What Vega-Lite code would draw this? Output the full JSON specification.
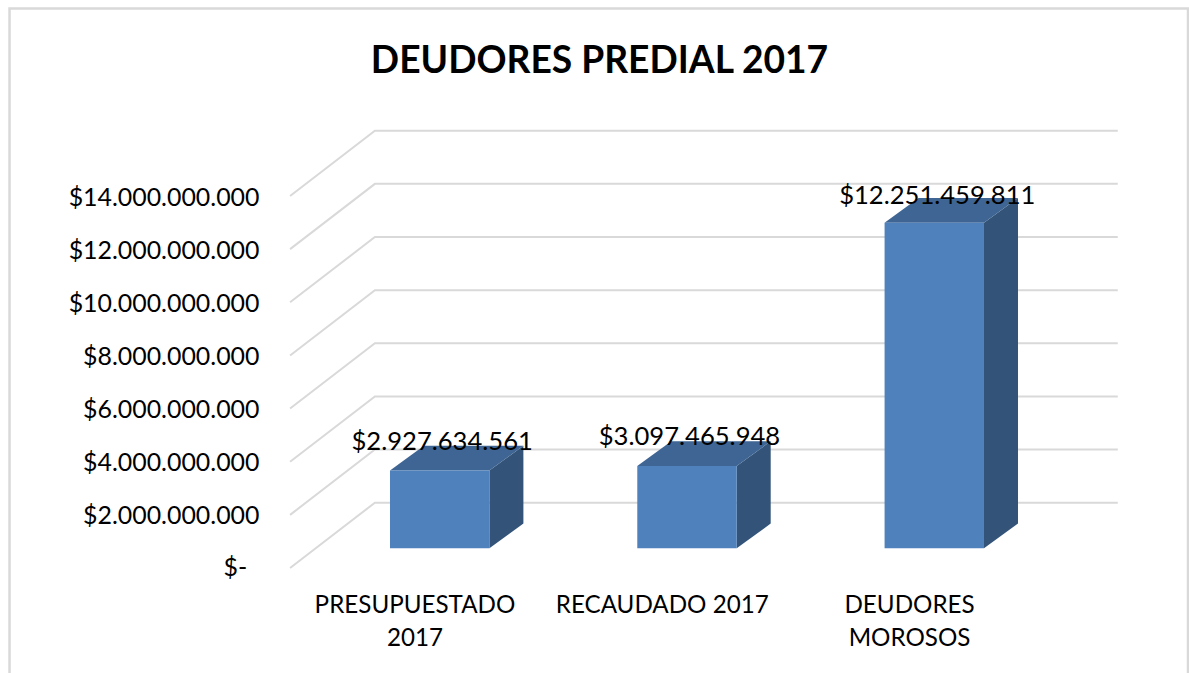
{
"$schema":"https://vega.github.io/schema/vega-lite/v6.json",
"width":1189,"height":673,"padding":0,"autosize":{"type":"none"},
"background":"#ffffff",
"title":{"text":"DEUDORES PREDIAL 2017","anchor":"middle","frame":"group","offset":-81,"dx":5,"font":"Lato","fontWeight":"bold","fontSize":37.2,"color":"#000000"},
"config":{"view":{"stroke":null},"font":"Lato"},
"encoding":{
"x":{"field":"x","type":"quantitative","scale":{"domain":[-1.778,3.03],"nice":false,"zero":false},"axis":null},
"y":{"field":"y","type":"quantitative","scale":{"domain":[-3952000000,21378000000],"nice":false,"zero":false},
"axis":{"values":[2000000000,4000000000,6000000000,8000000000,10000000000,12000000000,14000000000],"offset":-259,"domain":false,"ticks":false,"grid":false,"title":null,"labelPadding":0,"labelOffset":2,"labelLimit":400,"labelFont":"Lato","labelFontSize":24.9,"labelColor":"#000000","labelBaseline":"middle",
"labelExpr":"replace(format(datum.value,'$,.0f'),/,/g,'.')"}}
},
"layer":[
{"data":{"values":[{"x":-1.7395,"x2":3.026,"y":21058000000,"y2":-4100000000}]},
"mark":{"type":"rect","fill":"transparent","stroke":"#d9d9d9","strokeWidth":2.5},
"encoding":{"x2":{"field":"x2"},"y2":{"field":"y2"}}},
{"data":{"values":[
{"g":0,"x":-0.605,"y":0},{"g":0,"x":-0.262,"y":2458000000},{"g":0,"x":2.742,"y":2458000000},
{"g":2,"x":-0.605,"y":2000000000},{"g":2,"x":-0.262,"y":4458000000},{"g":2,"x":2.742,"y":4458000000},
{"g":4,"x":-0.605,"y":4000000000},{"g":4,"x":-0.262,"y":6458000000},{"g":4,"x":2.742,"y":6458000000},
{"g":6,"x":-0.605,"y":6000000000},{"g":6,"x":-0.262,"y":8458000000},{"g":6,"x":2.742,"y":8458000000},
{"g":8,"x":-0.605,"y":8000000000},{"g":8,"x":-0.262,"y":10458000000},{"g":8,"x":2.742,"y":10458000000},
{"g":10,"x":-0.605,"y":10000000000},{"g":10,"x":-0.262,"y":12458000000},{"g":10,"x":2.742,"y":12458000000},
{"g":12,"x":-0.605,"y":12000000000},{"g":12,"x":-0.262,"y":14458000000},{"g":12,"x":2.742,"y":14458000000},
{"g":14,"x":-0.605,"y":14000000000},{"g":14,"x":-0.262,"y":16458000000},{"g":14,"x":2.742,"y":16458000000}
]},
"mark":{"type":"line","color":"#d9d9d9","strokeWidth":2,"interpolate":"linear"},
"encoding":{"detail":{"field":"g"}}},
{"data":{"values":[
{"bar":"PRESUPUESTADO 2017","x":0.201,"y":741000000,"y2":3668634561},{"bar":"PRESUPUESTADO 2017","x":0.3385,"y":1671000000,"y2":4598634561},
{"bar":"RECAUDADO 2017","x":1.201,"y":741000000,"y2":3838465948},{"bar":"RECAUDADO 2017","x":1.3385,"y":1671000000,"y2":4768465948},
{"bar":"DEUDORES MOROSOS","x":2.201,"y":741000000,"y2":12992459811},{"bar":"DEUDORES MOROSOS","x":2.3385,"y":1671000000,"y2":13922459811}
]},
"mark":{"type":"area","orient":"vertical","color":"#335478"},
"encoding":{"detail":{"field":"bar"},"y2":{"field":"y2"}}},
{"data":{"values":[
{"bar":"PRESUPUESTADO 2017","x":-0.201,"x2":0.201,"y":3668634561},{"bar":"PRESUPUESTADO 2017","x":-0.0635,"x2":0.3385,"y":4598634561},
{"bar":"RECAUDADO 2017","x":0.799,"x2":1.201,"y":3838465948},{"bar":"RECAUDADO 2017","x":0.9365,"x2":1.3385,"y":4768465948},
{"bar":"DEUDORES MOROSOS","x":1.799,"x2":2.201,"y":12992459811},{"bar":"DEUDORES MOROSOS","x":1.9365,"x2":2.3385,"y":13922459811}
]},
"mark":{"type":"area","orient":"horizontal","color":"#3e6593"},
"encoding":{"detail":{"field":"bar"},"x2":{"field":"x2"}}},
{"data":{"values":[
{"bar":"PRESUPUESTADO 2017","x":-0.201,"x2":0.201,"y":741000000,"y2":3668634561},
{"bar":"RECAUDADO 2017","x":0.799,"x2":1.201,"y":741000000,"y2":3838465948},
{"bar":"DEUDORES MOROSOS","x":1.799,"x2":2.201,"y":741000000,"y2":12992459811}
]},
"mark":{"type":"rect","color":"#4f81bd"},
"encoding":{"x2":{"field":"x2"},"y2":{"field":"y2"}}},
{"data":{"values":[
{"label":"$-","x":-0.826,"y":-20000000}
]},
"mark":{"type":"text","font":"Lato","fontSize":24.9,"color":"#000000","align":"center","baseline":"middle"},
"encoding":{"text":{"field":"label"}}},
{"data":{"values":[
{"label":"$2.927.634.561","x":0.01,"y":4742634561},
{"label":"$3.097.465.948","x":1.01,"y":4912465948},
{"label":"$12.251.459.811","x":2.012,"y":14006459811}
]},
"mark":{"type":"text","font":"Lato","fontSize":25.6,"color":"#000000","align":"center","baseline":"middle"},
"encoding":{"text":{"field":"label"}}},
{"data":{"values":[
{"cat":"PRESUPUESTADO\n2017","x":-0.1,"y":-978000000},
{"cat":"RECAUDADO 2017","x":0.9,"y":-978000000},
{"cat":"DEUDORES\nMOROSOS","x":1.9,"y":-978000000}
]},
"mark":{"type":"text","font":"Lato","fontSize":24.2,"color":"#000000","align":"center","baseline":"top","lineBreak":"\n","lineHeight":33},
"encoding":{"text":{"field":"cat"}}}
]
}
